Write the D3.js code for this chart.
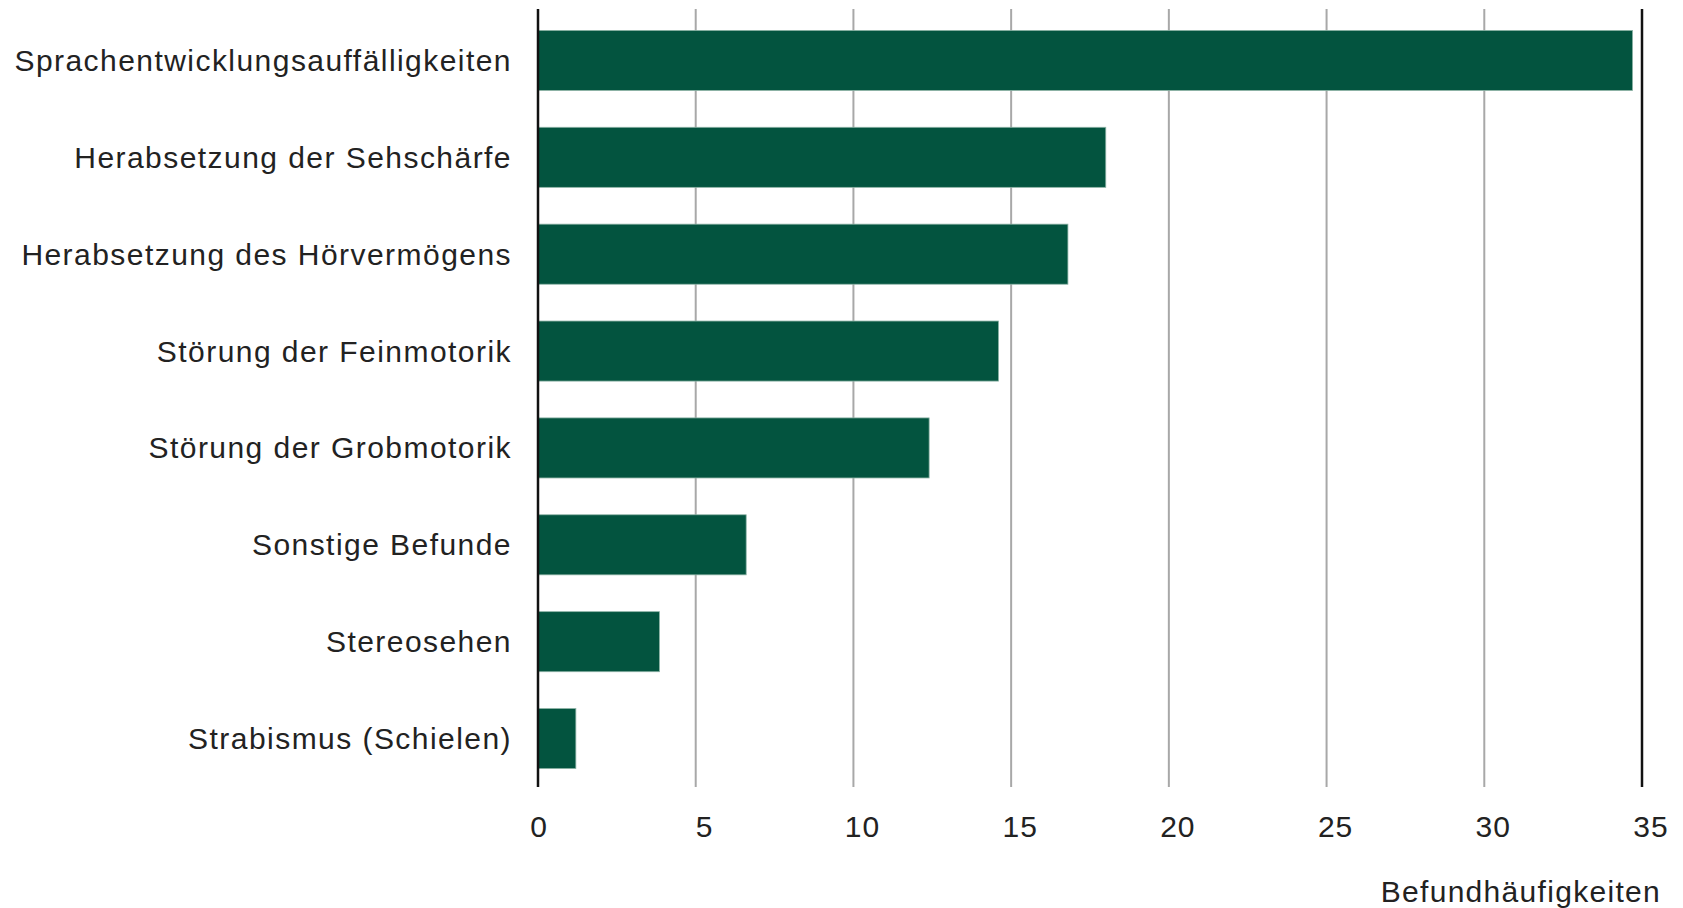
<!DOCTYPE html>
<html>
<head>
<meta charset="utf-8">
<script src="https://cdn.jsdelivr.net/npm/d3@7"></script>
<style>
  body { margin: 0; background: #fff; }
  text { font-family: "Liberation Sans", Arial, sans-serif; fill: #222; }
</style>
</head>
<body>
<div id="chart"></div>
<script>
const categories = [
  "Sprachentwicklungsauffälligkeiten",
  "Herabsetzung der Sehschärfe",
  "Herabsetzung des Hörvermögens",
  "Störung der Feinmotorik",
  "Störung der Grobmotorik",
  "Sonstige Befunde",
  "Stereosehen",
  "Strabismus (Schielen)"
];
const values = [34.7, 18.0, 16.8, 14.6, 12.4, 6.6, 3.85, 1.2];
const ticks = [0, 5, 10, 15, 20, 25, 30, 35];
const axisTitle = "Befundhäufigkeiten";

const width = 1683, height = 908;
let margin = {left: 538, right: 1642, top: 9, bottom: 787};

const svg = d3.select("#chart").append("svg")
    .attr("width", width)
    .attr("height", height);

let x = d3.scaleLinear().domain([0, 35]).range([margin.left, margin.right]),
    y = d3.scaleBand().domain(categories).range([12, 787]).paddingInner(0.38).paddingOuter(0.19);

// grid lines
svg.append("g")
    .selectAll("line")
    .data(ticks.filter(d => d > 0 && d < 35))
    .enter().append("line")
    .attr("x1", d => x(d)).attr("x2", d => x(d))
    .attr("y1", margin.top).attr("y2", margin.bottom)
    .attr("stroke", "#a8a8a8")
    .attr("stroke-width", 2);

// bars
svg.append("g")
    .selectAll("rect")
    .data(values)
    .enter().append("rect")
    .attr("x", x(0))
    .attr("y", (d, i) => y(categories[i]))
    .attr("width", d => x(d) - x(0))
    .attr("height", y.bandwidth())
    .attr("fill", "#03543f")
    .attr("stroke", "#8db3a6")
    .attr("stroke-width", 0.8);

// left axis line and right boundary line
svg.append("line")
    .attr("x1", x(0)).attr("x2", x(0))
    .attr("y1", margin.top).attr("y2", margin.bottom)
    .attr("stroke", "#111").attr("stroke-width", 2.5);
svg.append("line")
    .attr("x1", x(35)).attr("x2", x(35))
    .attr("y1", margin.top).attr("y2", margin.bottom)
    .attr("stroke", "#111").attr("stroke-width", 2.5);

// category labels
svg.append("g")
    .selectAll("text")
    .data(categories)
    .enter().append("text")
    .attr("x", 512)
    .attr("y", d => y(d) + y.bandwidth() / 2)
    .attr("dy", "0.35em")
    .attr("text-anchor", "end")
    .style("font-size", "30px")
    .style("letter-spacing", "1.45px")
    .text(d => d);

// tick labels
svg.append("g")
    .selectAll("text")
    .data(ticks)
    .enter().append("text")
    .attr("x", d => x(d) + (d === 0 ? 1 : 9))
    .attr("y", 826)
    .attr("dy", "0.35em")
    .attr("text-anchor", "middle")
    .style("font-size", "30px")
    .style("letter-spacing", "1px")
    .text(d => d);

// axis title
svg.append("text")
    .attr("x", 1661)
    .attr("y", 902)
    .attr("text-anchor", "end")
    .style("font-size", "30px")
    .style("letter-spacing", "1.3px")
    .text(axisTitle);
</script>
</body>
</html>
